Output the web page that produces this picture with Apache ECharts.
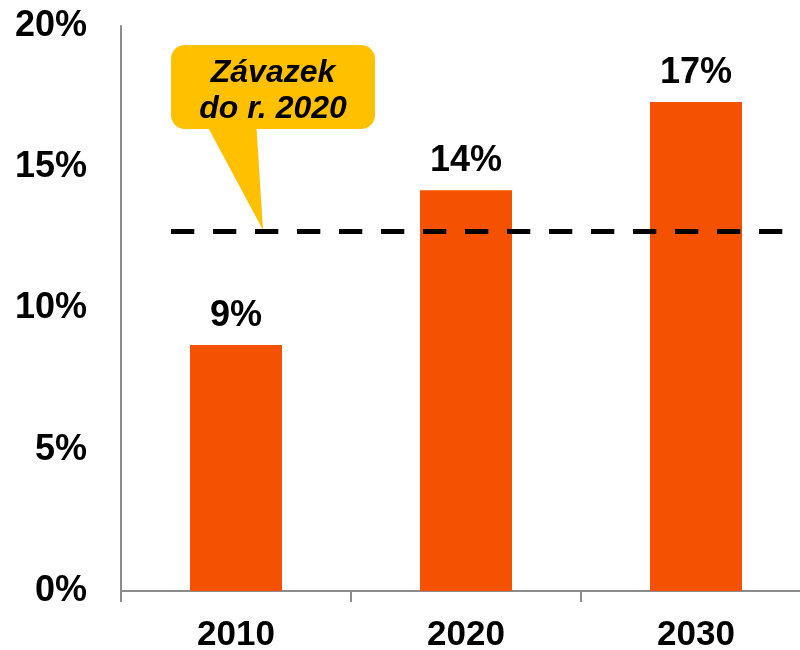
<!DOCTYPE html>
<html>
<head>
<meta charset="utf-8">
<script src="https://cdn.jsdelivr.net/npm/echarts@6/dist/echarts.min.js"></script>
<style>
  html, body { margin: 0; padding: 0; background: #fff; }
  #main { width: 800px; height: 650px; }
</style>
</head>
<body>
<div id="main"></div>
<script>
var years = ['2010', '2020', '2030'];
var shares = [8.71, 14.19, 17.31];
var shareLabels = ['9%', '14%', '17%'];
var target2020 = 12.72;
var yTicks = [0, 5, 10, 15, 20];

var chart = echarts.init(document.getElementById('main'));
var font = '"Liberation Sans", Arial, sans-serif';

var option = {
    animation: false,
    grid: {
        left: 121,
        top: 26,
        width: 690,
        bottom: 59,
        containLabel: false,
        outerBoundsMode: 'none'
    },
    xAxis: {
        type: 'category',
        data: years,
        axisLine: { lineStyle: { color: '#8c8c8c', width: 2 } },
        axisTick: { show: true, length: 11, lineStyle: { color: '#8c8c8c', width: 2 } },
        axisLabel: {
            margin: 27,
            color: '#000',
            fontFamily: font,
            fontWeight: 'bold',
            fontSize: 35
        }
    },
    yAxis: {
        type: 'value',
        min: yTicks[0],
        max: yTicks[yTicks.length - 1],
        interval: 5,
        splitLine: { show: false },
        axisTick: { show: false },
        axisLine: { show: true, lineStyle: { color: '#8c8c8c', width: 2 } },
        axisLabel: {
            margin: 34,
            color: '#000',
            fontFamily: font,
            fontWeight: 'bold',
            fontSize: 36,
            formatter: '{value}%'
        }
    },
    series: [{
        type: 'bar',
        data: shares,
        barWidth: 92,
        itemStyle: { color: '#F45100' },
        label: {
            show: true,
            position: 'top',
            distance: 11,
            color: '#000',
            fontFamily: font,
            fontWeight: 'bold',
            fontSize: 36,
            formatter: function (p) { return shareLabels[p.dataIndex]; }
        },
        markLine: {
            silent: true,
            symbol: 'none',
            label: { show: false },
            lineStyle: { color: '#000', width: 5, type: [23.3, 18.7] },
            data: [[
                { xAxis: years[0], yAxis: target2020, x: 171 },
                { xAxis: years[2], yAxis: target2020, x: 783 }
            ]]
        }
    }],
    graphic: [{
        type: 'group',
        z: 100,
        children: [{
            type: 'polygon',
            shape: { points: [[204, 120], [256, 120], [263, 230]] },
            style: { fill: '#FFC000' }
        }, {
            type: 'rect',
            shape: { x: 171, y: 45, width: 204, height: 84, r: 14 },
            style: { fill: '#FFC000' }
        }, {
            type: 'text',
            x: 273,
            y: 91,
            style: {
                text: 'Závazek\ndo r. 2020',
                align: 'center',
                verticalAlign: 'middle',
                fill: '#000',
                font: 'italic bold 32px ' + font,
                lineHeight: 36
            }
        }]
    }]
};

chart.setOption(option);
</script>
</body>
</html>
